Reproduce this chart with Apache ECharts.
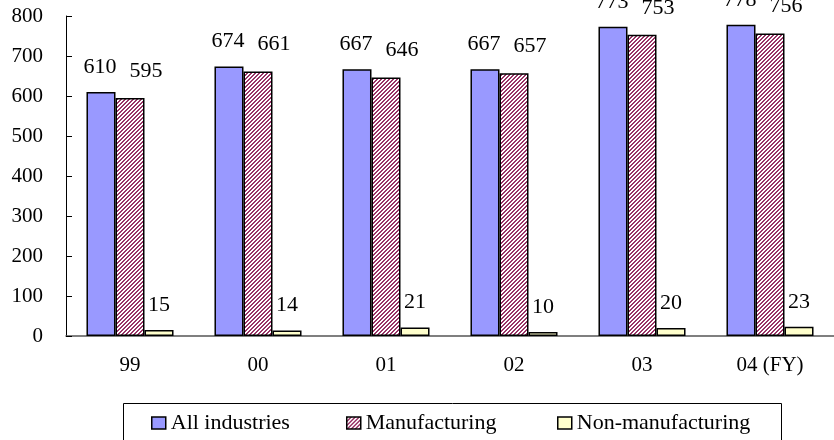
<!DOCTYPE html>
<html>
<head>
<meta charset="utf-8">
<script src="https://cdn.jsdelivr.net/npm/echarts@6/dist/echarts.min.js"></script>
<style>
  html, body { margin: 0; padding: 0; background: #fff; }
  #chart { width: 834px; height: 440px; }
</style>
</head>
<body>
<div id="chart"></div>
<script>
// Fiscal years on the category axis
const years = ['99', '00', '01', '02', '03', '04 (FY)'];
// Values per industry group
const allIndustries = [610, 674, 667, 667, 773, 778];
const manufacturing = [595, 661, 646, 657, 753, 756];
const nonManufacturing = [15, 14, 21, 10, 20, 23];
// Value axis range
const yMin = 0, yMax = 800, yStep = 100;

const FONT = '"Liberation Serif", "Times New Roman", serif';

// Diagonal hatch fill for the manufacturing bars
function hatch() {
  const c = document.createElement('canvas');
  c.width = 4; c.height = 4;
  const g = c.getContext('2d');
  g.fillStyle = '#ffffff';
  g.fillRect(0, 0, 4, 4);
  g.fillStyle = '#993366';
  for (let x = 0; x < 4; x++) {
    for (let y = 0; y < 4; y++) {
      const k = (x + y) % 4;
      if (k === 3 || k === 0) g.fillRect(x, y, 1, 1);
    }
  }
  return { image: c, repeat: 'repeat' };
}

const border = { borderColor: '#000', borderWidth: 1.5 };
const labelBase = { show: true, position: 'top', color: '#000', fontFamily: FONT, fontSize: 22 };

const chart = echarts.init(document.getElementById('chart'));
const legendCommon = {
  orient: 'horizontal', top: 407, icon: 'rect', itemWidth: 14, itemHeight: 12, itemGap: 0,
  textStyle: { fontFamily: FONT, fontSize: 22, color: '#000' },
  itemStyle: { borderColor: '#000', borderWidth: 1.5 }
};
chart.setOption({
  animation: false,
  backgroundColor: '#fff',
  grid: { left: 66, right: 0, top: 16, bottom: 104, containLabel: false },
  legend: [
    Object.assign({ left: 146, data: ['All industries'] }, legendCommon),
    Object.assign({ left: 341, data: ['Manufacturing'] }, legendCommon),
    Object.assign({ left: 552, data: ['Non-manufacturing'] }, legendCommon)
  ],
  graphic: [{
    type: 'rect', left: 121, top: 401,
    shape: { width: 658, height: 45 },
    style: { fill: 'none', stroke: '#000', lineWidth: 1 }
  }],
  xAxis: {
    type: 'category', data: years,
    axisLine: { lineStyle: { color: '#555', width: 1.5 } },
    axisTick: { inside: true, length: 7, lineStyle: { color: '#000' } },
    axisLabel: { color: '#000', fontFamily: FONT, fontSize: 21, margin: 19 }
  },
  yAxis: {
    type: 'value', min: yMin, max: yMax, interval: yStep,
    splitLine: { show: false },
    axisLine: { show: true, lineStyle: { color: '#000', width: 1 } },
    axisTick: { show: true, inside: true, length: 6, lineStyle: { color: '#000' } },
    axisLabel: { color: '#000', fontFamily: FONT, fontSize: 21, margin: 23 }
  },
  series: [
    {
      name: 'All industries', type: 'bar', data: allIndustries,
      barGap: '0%', barCategoryGap: '32%',
      itemStyle: Object.assign({ color: '#9999ff' }, border),
      label: Object.assign({ distance: 14, offset: [-1, 0] }, labelBase)
    },
    {
      name: 'Manufacturing', type: 'bar', data: manufacturing,
      itemStyle: Object.assign({ color: hatch() }, border),
      label: Object.assign({ distance: 16, offset: [16, 0] }, labelBase)
    },
    {
      name: 'Non-manufacturing', type: 'bar', data: nonManufacturing,
      itemStyle: Object.assign({ color: '#ffffcc' }, border),
      label: Object.assign({ distance: 14 }, labelBase)
    }
  ]
});
</script>
</body>
</html>
